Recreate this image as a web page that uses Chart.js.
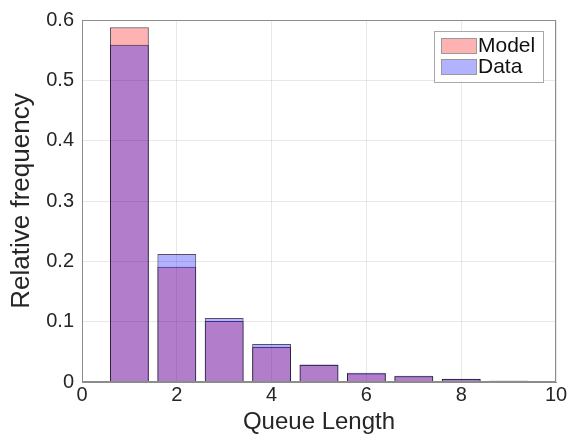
<!DOCTYPE html>
<html>
<head>
<meta charset="utf-8">
<script src="https://cdn.jsdelivr.net/npm/chart.js@4/dist/chart.umd.min.js"></script>
<style>
  html, body { margin: 0; padding: 0; background: #fff; }
  #wrap { width: 569px; height: 444px; }
</style>
</head>
<body>
<div id="wrap"><canvas id="hist"></canvas></div>
<script>
// values
var queueLength = [1, 2, 3, 4, 5, 6, 7, 8, 9, 10];
var modelFreq = [0.588, 0.191, 0.101, 0.058, 0.028, 0.014, 0.0095, 0.005, 0.002, 0.0008];
var dataFreq = [0.559, 0.212, 0.106, 0.063, 0.029, 0.0154, 0.0104, 0.0055, 0.0022, 0.0009];
var xTicks = [0, 2, 4, 6, 8, 10];
var yTicks = [0, 0.1, 0.2, 0.3, 0.4, 0.5, 0.6];

var fontFamily = "'Liberation Sans', Arial, Helvetica, sans-serif";
var modelColor = "rgba(255, 0, 0, 0.3)";
var dataColor = "rgba(0, 0, 255, 0.3)";
var edgeColor = "rgba(30, 20, 50, 0.75)";
var axisColor = "#8c8c8c";

function toPoints(xs, ys) {
  return xs.map(function (x, i) {
    return { x: x, y: ys[i] };
  });
}

// box around the plot area (MATLAB "box on")
var plotBox = {
  id: "plotBox",
  afterDraw: function (chart) {
    var a = chart.chartArea;
    var ctx = chart.ctx;
    ctx.save();
    ctx.strokeStyle = axisColor;
    ctx.lineWidth = 1;
    ctx.strokeRect(a.left + 0.5, a.top + 0.5, a.right - a.left - 1, a.bottom - a.top - 1);
    ctx.restore();
  },
};

// legend drawn inside the axes, top right
var boxLegend = {
  id: "boxLegend",
  afterDraw: function (chart) {
    var a = chart.chartArea;
    var ctx = chart.ctx;
    var w = 109, h = 51;
    var x = a.right - 13 - w;
    var y = a.top + 11;
    ctx.save();
    ctx.fillStyle = "#fff";
    ctx.fillRect(x, y, w, h);
    ctx.strokeStyle = "#a8a8a8";
    ctx.lineWidth = 1;
    ctx.strokeRect(x + 0.5, y + 0.5, w, h);
    ctx.font = "21px " + fontFamily;
    ctx.textBaseline = "middle";
    ctx.textAlign = "left";
    var items = [chart.data.datasets[0], chart.data.datasets[1]];
    items.forEach(function (ds, i) {
      var sy = y + 7 + i * 21;
      ctx.fillStyle = ds.backgroundColor;
      ctx.fillRect(x + 7, sy, 36, 16);
      ctx.strokeStyle = "#9a9a9a";
      ctx.strokeRect(x + 7.5, sy + 0.5, 35, 15);
      ctx.fillStyle = "#111";
      ctx.fillText(ds.label, x + 44, sy + 8);
    });
    ctx.restore();
  },
};

var ctx = document.getElementById("hist").getContext("2d");
window.myHist = new Chart(ctx, {
  type: "bar",
  data: {
    datasets: [
      {
        label: "Model",
        data: toPoints(queueLength, modelFreq),
        backgroundColor: modelColor,
        borderColor: edgeColor,
        borderWidth: 1,
        order: 2,
      },
      {
        label: "Data",
        data: toPoints(queueLength, dataFreq),
        backgroundColor: dataColor,
        borderColor: edgeColor,
        borderWidth: 1,
        order: 1,
      },
    ],
  },
  options: {
    responsive: true,
    maintainAspectRatio: false,
    animation: false,
    grouped: false,
    barPercentage: 0.82,
    categoryPercentage: 1.0,
    layout: { padding: { left: 0, top: 19, right: 13, bottom: 0 } },
    plugins: {
      legend: { display: false },
      tooltip: { enabled: false },
    },
    scales: {
      x: {
        type: "linear",
        min: 0,
        max: 10,
        offset: false,
        afterBuildTicks: function (scale) {
          scale.ticks = xTicks.map(function (v) { return { value: v }; });
        },
        afterFit: function (scale) { scale.height = 62; },
        grid: { color: "rgba(0,0,0,0.09)", drawTicks: false, offset: false },
        border: { color: axisColor },
        ticks: {
          padding: 1,
          color: "#262626",
          font: { family: fontFamily, size: 20 },
          maxRotation: 0,
        },
        title: {
          display: true,
          text: "Queue Length",
          color: "#262626",
          font: { family: fontFamily, size: 24 },
          padding: { top: 0, bottom: 7 },
        },
      },
      y: {
        min: 0,
        max: 0.6,
        afterBuildTicks: function (scale) {
          scale.ticks = yTicks.map(function (v) { return { value: v }; });
        },
        afterFit: function (scale) { scale.width = 82; },
        grid: { color: "rgba(0,0,0,0.09)", drawTicks: false },
        border: { color: axisColor },
        ticks: {
          padding: 8,
          color: "#262626",
          font: { family: fontFamily, size: 20 },
          callback: function (v) { return String(Math.round(v * 10) / 10); },
        },
        title: {
          display: true,
          text: "Relative frequency",
          color: "#262626",
          font: { family: fontFamily, size: 26 },
          padding: { top: 6, bottom: 0 },
        },
      },
    },
  },
  plugins: [plotBox, boxLegend],
});
</script>
</body>
</html>
